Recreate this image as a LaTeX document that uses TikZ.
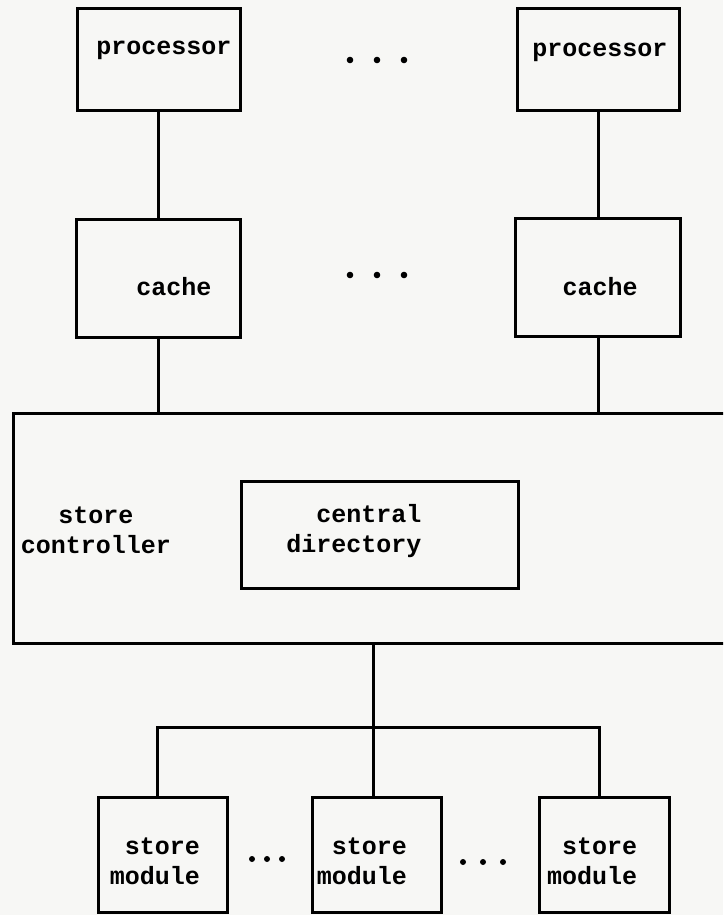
\documentclass[tikz,border=0pt]{standalone}
\usepackage{fontspec}
\setmonofont{Liberation Mono}
\usepackage{xcolor}
\usepackage{tikz}
\usetikzlibrary{positioning}
\definecolor{paper}{RGB}{247,247,245}

\begin{document}
\begin{tikzpicture}[
        x=1pt, y=-1pt,
        unit/.style={rectangle, draw, line width=3pt, inner sep=0pt},
        txt/.style={font=\ttfamily\bfseries\fontsize{25pt}{30pt}\selectfont,
                    align=center, inner sep=0pt},
        wire/.style={line width=3pt}
      ]
        \useasboundingbox (0,0) rectangle (723,915);
        \fill[paper] (0,0) rectangle (723,915);
        \clip (0,0) rectangle (723,915);

        \node[unit, minimum width=163pt, minimum height=102pt] (proc1) at (158.5,60) {};
        \node[unit, minimum width=162pt, minimum height=102pt] (proc2) at (598,59.5) {};
        \node[unit, minimum width=164pt, minimum height=118pt, below=105pt of proc1] (cache1) {};
        \node[unit, minimum width=165pt, minimum height=118pt, below=105pt of proc2] (cache2) {};
        \node[unit, minimum width=727pt, minimum height=230pt] (ctrl) at (376.5,528) {};
        \node[unit, minimum width=277pt, minimum height=107pt] (dir) at (379.5,534.5) {};
        \node[unit, minimum width=129pt, minimum height=115pt] (mod1) at (162.5,854.5) {};
        \node[unit, minimum width=129pt, minimum height=115pt, right=82pt of mod1] (mod2) {};
        \node[unit, minimum width=130pt, minimum height=115pt, right=95pt of mod2] (mod3) {};

        \node[txt] (proc1txt) at (164,50) {processor};
        \node[txt] (proc2txt) at (600,52) {processor};
        \node[txt] (cache1txt) at (174,287) {cache};
        \node[txt] (cache2txt) at (600,287) {cache};
        \node[txt] (ctrltxt) at (96,530) {store\\controller};
        \node[txt, align=right] (dirtxt) at (354,531) {central\\directory};
        \node[txt, align=right] (mod1txt) at (155,861) {store\\module};
        \node[txt, align=right] (mod2txt) at (362,861) {store\\module};
        \node[txt, align=right] (mod3txt) at (592,861) {store\\module};

        \foreach \x in {350,377,404} {
          \fill (\x,60) circle (3.3pt);
          \fill (\x,275) circle (3.3pt);
        }
        \foreach \x in {252,267,282} \fill (\x,859) circle (3pt);
        \foreach \x in {463,483,503} \fill (\x,862) circle (3pt);

        \draw[wire] (proc1) -- (cache1);
        \draw[wire] (proc2) -- (cache2);
        \draw[wire] (cache1) -- (cache1 |- ctrl.north);
        \draw[wire] (cache2) -- (cache2 |- ctrl.north);

        \coordinate (bus) at (373,727);
        \coordinate (j1) at (157,727);
        \coordinate (j3) at (599,727);
        \draw[wire] (ctrl.south -| bus) -- (bus);
        \draw[wire] (j1 |- mod1.north) -- (j1) -- (j3) -- (j3 |- mod3.north);
        \draw[wire] (bus) -- (bus |- mod2.north);
      \end{tikzpicture}
\end{document}
